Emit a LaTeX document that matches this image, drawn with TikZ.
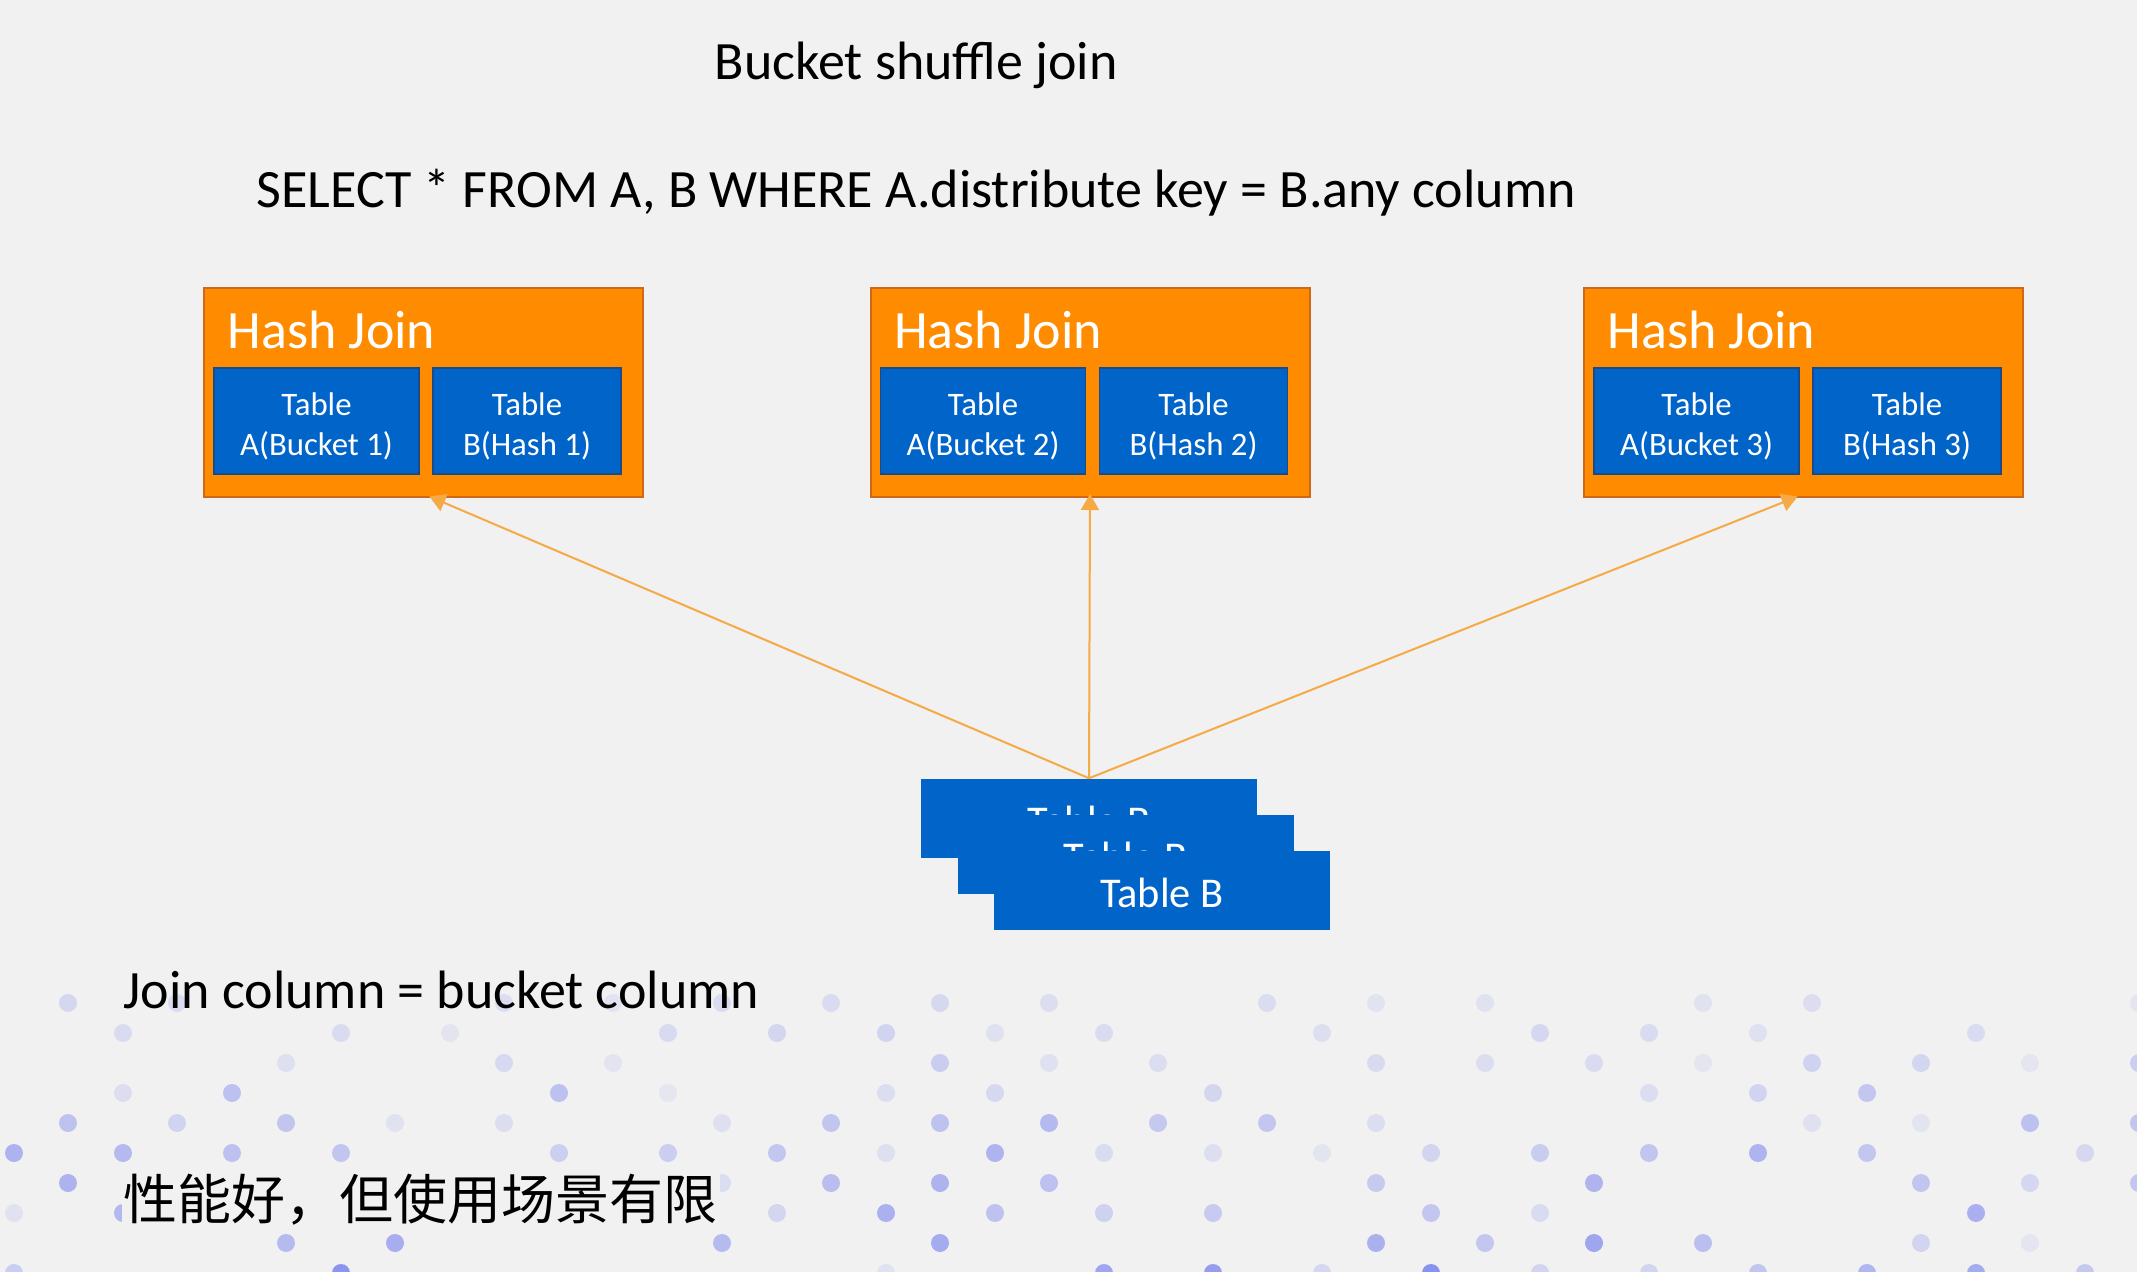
\documentclass[tikz,border=0pt]{standalone}
\usepackage{fontspec}
\setmainfont{Carlito}
\newfontfamily\cjkfont{Noto Sans CJK SC}
\usetikzlibrary{arrows.meta,positioning}

\definecolor{slidebg}{RGB}{241,241,241}
\definecolor{joinorange}{RGB}{255,140,0}
\definecolor{joinedge}{RGB}{205,105,25}
\definecolor{tableblue}{RGB}{0,100,200}
\definecolor{tableedge}{RGB}{25,75,140}
\definecolor{linkorange}{RGB}{245,170,70}
\definecolor{dotblue}{RGB}{125,135,238}

\tikzset{every picture/.style={line width=0.75pt}}
\tikzset{
  hashbox/.style={draw=joinedge, line width=1pt, fill=joinorange, minimum width=219.5pt, minimum height=104.5pt, inner sep=0pt},
  hjlabel/.style={anchor=base west, inner sep=0pt, text=white, font=\fontsize{27}{32}\selectfont},
  tablebox/.style={draw=tableedge, line width=0.75pt, fill=tableblue, minimum height=53pt, inner sep=0pt},
  tabletext/.style={inner sep=0pt, align=center, text=white, font=\fontsize{16.4}{20}\selectfont},
  stackbox/.style={fill=tableblue, minimum width=168pt, minimum height=39.5pt, inner sep=0pt, text height=17pt, text depth=0pt, text=white, font=\fontsize{21.2}{24}\selectfont},
  plain/.style={anchor=base west, inner sep=0pt, font=\fontsize{27}{32}\selectfont},
  link/.style={draw=linkorange, line width=1pt, shorten >=-2pt, -{Triangle[length=8pt,width=9pt]}},
}

\begin{document}
\begin{tikzpicture}[x=0.5pt,y=0.5pt,yscale=-1,xscale=1]
	\useasboundingbox (0,0) rectangle (2137,1272);
	\fill[slidebg] (0,0) rectangle (2137,1272);

	% Dots
	\pgfmathsetseed{11}
	\foreach \r in {0,...,9}{
		\foreach \c in {0,...,19}{
			\pgfmathsetmacro{\dx}{mod(\r,2)==0 ? 68+109*\c : 14+109*\c}
			\pgfmathsetmacro{\op}{rnd<0.3 ? 0 : (0.1+0.8*rnd*(\r+2)/11)}
			\fill[dotblue, opacity=\op] (\dx,1003+30*\r) circle (9);
		}
	}

	% Text Node
	\node[plain] (title) at (714,80) {Bucket shuffle join};
	% Text Node
	\node[plain] (query) at (256,208) {SELECT * FROM A, B WHERE A.distribute key = B.any column};

	%Shape: Hash Join 1
	\node[hashbox] (hj1) at (423.5,392.5) {};
	\node[hjlabel] (hjl1) at ([xshift=12pt,yshift=31pt]hj1.north west) {Hash Join};
	\node[tablebox, minimum width=102.5pt] (ta1) at (316.5,421) {};
	\node[tablebox, minimum width=94pt] (tb1) at (527,421) {};
	\node[tabletext] at ([yshift=2.75pt]ta1) {Table\\A(Bucket 1)};
	\node[tabletext] at ([yshift=2.75pt]tb1) {Table\\B(Hash 1)};
	%Shape: Hash Join 2
	\node[hashbox] (hj2) at (1090,392.5) {};
	\node[hjlabel] (hjl2) at ([xshift=12pt,yshift=31pt]hj2.north west) {Hash Join};
	\node[tablebox, minimum width=102.5pt] (ta2) at (983,421) {};
	\node[tablebox, minimum width=94pt] (tb2) at (1193.5,421) {};
	\node[tabletext] at ([yshift=2.75pt]ta2) {Table\\A(Bucket 2)};
	\node[tabletext] at ([yshift=2.75pt]tb2) {Table\\B(Hash 2)};
	%Shape: Hash Join 3
	\node[hashbox] (hj3) at (1803.5,392.5) {};
	\node[hjlabel] (hjl3) at ([xshift=12pt,yshift=31pt]hj3.north west) {Hash Join};
	\node[tablebox, minimum width=102.5pt] (ta3) at (1696.5,421) {};
	\node[tablebox, minimum width=94pt] (tb3) at (1907,421) {};
	\node[tabletext] at ([yshift=2.75pt]ta3) {Table\\A(Bucket 3)};
	\node[tabletext] at ([yshift=2.75pt]tb3) {Table\\B(Hash 3)};

	%Shape: Table B stack
	\node[stackbox] (tbs1) at (1089,818.5) {Table B};
	\node[stackbox] (tbs2) at (1125.5,854.5) {Table B};
	\node[stackbox] (tbs3) at (1162,890.5) {Table B};

	%Straight Lines
	\draw[link] (tbs1.north) -- ([xshift=4.75pt]hj1.south);
	\draw[link] (tbs1.north) -- (hj2.south);
	\draw[link] (tbs1.north) -- ([xshift=-4.75pt]hj3.south);

	% Text Node
	\node[plain] (rule) at (123,1008) {Join column = bucket column};
	% Text Node
	\node[anchor=west, fill=slidebg, inner sep=1pt, font=\cjkfont\fontsize{27}{32}\selectfont] (note) at (121,1200) {性能好，但使用场景有限};
\end{tikzpicture}
\end{document}
